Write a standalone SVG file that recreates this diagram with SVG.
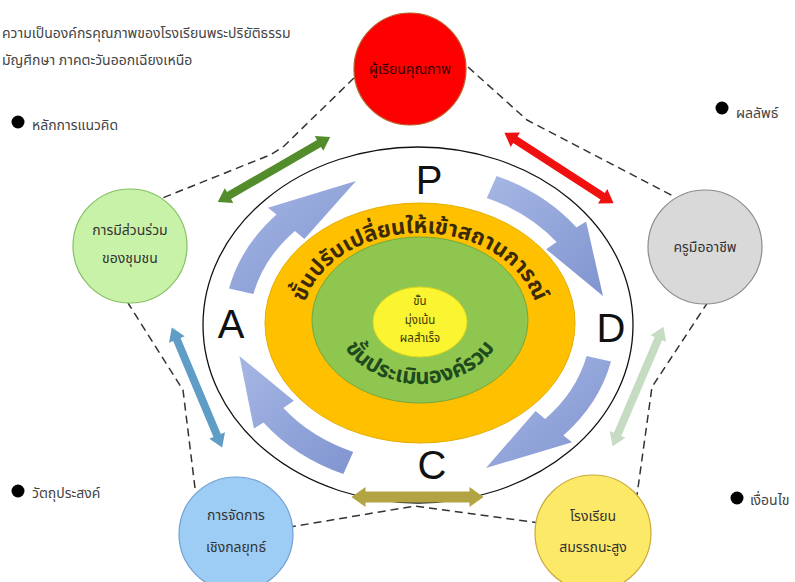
<svg xmlns="http://www.w3.org/2000/svg" xmlns:xlink="http://www.w3.org/1999/xlink" width="795" height="582" viewBox="0 0 795 582">
<style>
  .th { font-family: "Noto Sans Thai", "Noto Sans", "Liberation Sans", sans-serif; }
  .lbl { font-size: 14px; fill: #333; text-anchor: middle; }
  .hdr { font-size: 14px; fill: #444; }
  .dash { fill: none; stroke: #333; stroke-width: 1.5; stroke-dasharray: 8 5; stroke-linejoin: round; }
  .letter { font-family: "Liberation Sans", Arial, sans-serif; font-size: 40px; fill: #111; text-anchor: middle; }
  .blk { fill: url(#blkGrad); }
</style>
<defs>
  <linearGradient id="blkGrad" x1="0" y1="0" x2="1" y2="1">
    <stop offset="0" stop-color="#a6b7e4"/>
    <stop offset="1" stop-color="#8094d0"/>
  </linearGradient>
  <polygon id="dbl" points="-65,0 -52,-8.5 -52,-4 52,-4 52,-8.5 65,0 52,8.5 52,4 -52,4 -52,8.5"/>
  <polygon id="dblWide" points="-66,0 -52,-10 -52,-5.5 52,-5.5 52,-10 66,0 52,10 52,5.5 -52,5.5 -52,10"/>
  <path id="arcTop" d="M 302 323 A 118 90 0 0 1 538 323"/>
  <path id="arcBot" d="M 336 318 A 84 66 0 0 0 504 318"/>
</defs>

<!-- header texts -->
<g id="header" class="th">
  <text class="hdr" x="2" y="38">ความเป็นองค์กรคุณภาพของโรงเรียนพระปริยัติธรรม</text>
  <text class="hdr" x="2" y="65">มัญศึกษา ภาคตะวันออกเฉียงเหนือ</text>
</g>
<g id="bullets" class="th">
  <circle cx="18" cy="122" r="6.5" fill="#000"/>
  <text class="hdr" x="32" y="130">หลักการแนวคิด</text>
  <circle cx="722" cy="108" r="6.5" fill="#000"/>
  <text class="hdr" x="736" y="118">ผลลัพธ์</text>
  <circle cx="18" cy="491" r="6.5" fill="#000"/>
  <text class="hdr" x="32" y="498">วัตถุประสงค์</text>
  <circle cx="737" cy="498" r="6.5" fill="#000"/>
  <text class="hdr" x="750" y="505">เงื่อนไข</text>
</g>

<!-- connectors -->
<g id="connectors">
  <polyline class="dash" points="354,78 283,147 270,155 160,199"/>
  <polyline class="dash" points="468,67 527,120 675,197"/>
  <polyline class="dash" points="708,302 652,387 637,495"/>
  <polyline class="dash" points="540,523 415,506 290,527"/>
  <polyline class="dash" points="195,488 183,390 128,303"/>
</g>

<!-- central cycle -->
<g id="cycle">
  <ellipse cx="418" cy="325" rx="215" ry="178" fill="#fff" stroke="#111" stroke-width="1.3"/>
  <ellipse cx="420" cy="323" rx="155" ry="120" fill="#ffc000" stroke="#e5ad00" stroke-width="1"/>
  <ellipse cx="420" cy="320" rx="108" ry="83" fill="#8fc650" stroke="#74a83a" stroke-width="1"/>
  <ellipse cx="420" cy="322" rx="47" ry="35" fill="#fbf431" stroke="#e0d820" stroke-width="1"/>
  <text class="th" font-size="22" font-weight="bold" fill="#3a2a08"><textPath href="#arcTop" startOffset="50%" text-anchor="middle">ขั้นปรับเปลี่ยนให้เข้าสถานการณ์</textPath></text>
  <text class="th" font-size="22" font-weight="bold" fill="#1f4a1c"><textPath href="#arcBot" startOffset="50%" text-anchor="middle">ขั้นประเมินองค์รวม</textPath></text>
  <g class="th" font-size="11.5" fill="#3a3a00" text-anchor="middle">
    <text x="420" y="305">ขั้น</text>
    <text x="420" y="324">มุ่งเน้น</text>
    <text x="420" y="342">ผลสำเร็จ</text>
  </g>
  <text class="letter" x="429" y="194">P</text>
  <text class="letter" x="611" y="342">D</text>
  <text class="letter" x="432" y="479">C</text>
  <text class="letter" x="231" y="338">A</text>
</g>

<!-- block arrows of the cycle -->
<g id="cycle-arrows">
  <path class="blk" d="M 229.0 288.6 A 196 162 0 0 1 276.6 214.5 L 267.9 207.7 L 356 181 L 304.4 239.1 L 294.9 230.9 A 171 138 0 0 0 253.4 294.0 Z"/>
  <path class="blk" d="M 496.6 175.9 A 196 162 0 0 1 576.5 227.5 L 586.1 221.5 L 603 296.0 L 546.2 249.2 L 556.6 242.0 A 171 138 0 0 0 486.8 198.0 Z"/>
  <path class="blk" d="M 611.0 361.5 A 196 162 0 0 1 563.4 435.5 L 572.1 442.3 L 486.0 468 L 535.6 410.9 L 545.1 419.1 A 171 138 0 0 0 586.6 356.1 Z"/>
  <path class="blk" d="M 343.4 474.1 A 196 162 0 0 1 263.5 422.5 L 253.9 428.5 L 239.4 356.0 L 293.8 400.8 L 283.4 408.1 A 171 138 0 0 0 353.2 452.0 Z"/>
</g>

<!-- double arrows -->
<g id="double-arrows">
  <use href="#dbl" transform="translate(274,169.5) rotate(-30.1)" fill="#538d2b"/>
  <use href="#dbl" transform="translate(559,168) rotate(32.9)" fill="#f01010"/>
  <use href="#dbl" transform="translate(638,386.5) rotate(113.1)" fill="#c6dcc2"/>
  <use href="#dbl" transform="translate(197,387.5) rotate(67.2)" fill="#5f9cc6"/>
  <use href="#dblWide" transform="translate(417.5,497)" fill="#b3a443"/>
</g>

<!-- nodes -->
<g id="node-learner" class="th">
  <circle cx="410" cy="69" r="56" fill="#fe0000" stroke="#b8602a" stroke-width="1.2"/>
  <text class="lbl" x="410" y="74" style="fill:#300000">ผู้เรียนคุณภาพ</text>
</g>
<g id="node-teacher" class="th">
  <circle cx="705" cy="247" r="57" fill="#d9d9d9" stroke="#8c8c8c" stroke-width="1.2"/>
  <text class="lbl" x="705" y="252">ครูมืออาชีพ</text>
</g>
<g id="node-community" class="th">
  <circle cx="130" cy="246" r="57" fill="#c9f2a9" stroke="#84c064" stroke-width="1.2"/>
  <text class="lbl" x="130" y="235">การมีส่วนร่วม</text>
  <text class="lbl" x="130" y="263">ของชุมชน</text>
</g>
<g id="node-strategy" class="th">
  <circle cx="236" cy="534" r="57" fill="#9dcdf5" stroke="#6fa0d0" stroke-width="1.2"/>
  <text class="lbl" x="236" y="520">การจัดการ</text>
  <text class="lbl" x="236" y="552">เชิงกลยุทธ์</text>
</g>
<g id="node-school" class="th">
  <circle cx="593" cy="533" r="58" fill="#fde968" stroke="#c9a93a" stroke-width="1.2"/>
  <text class="lbl" x="593" y="521">โรงเรียน</text>
  <text class="lbl" x="593" y="552">สมรรถนะสูง</text>
</g>
</svg>
